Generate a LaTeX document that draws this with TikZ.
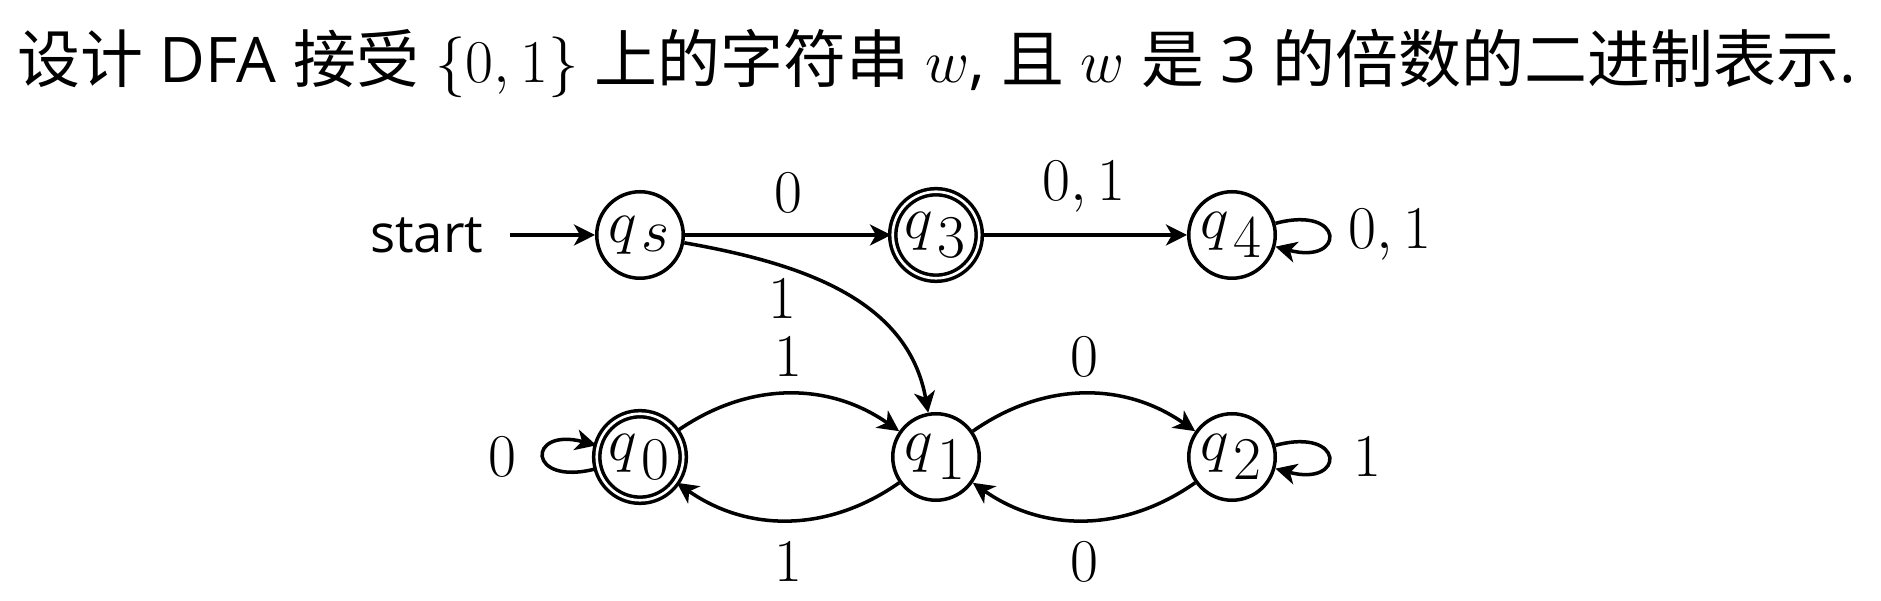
\documentclass[tikz,border=0pt]{standalone}
\usepackage{fontspec}
\setmainfont{Open Sans}
\newfontfamily\cjk{Noto Sans CJK SC}
\usetikzlibrary{automata,arrows.meta}
\tikzset{
  every state/.style={draw, line width=1pt, minimum size=0.865cm, inner sep=0pt},
  accepting/.style={double, double distance=0.75pt},
  lbl/.style={inner sep=0.04cm}
}
\newcommand{\qq}[1]{$q_{\textstyle\mskip2mu#1}$}
\begin{document}
\begin{tikzpicture}[>={Stealth[length=2.1mm,width=2.1mm,inset=0.6mm]},
    line width=1pt, font=\fontsize{17.5}{21}\selectfont]
      \useasboundingbox (0,0) rectangle (18.81,6.01);
      \node[anchor=base west, inner sep=0pt, font=\fontsize{17.9}{21}\selectfont] (title) at (0.16,5.18)
        {{\cjk 设计} DFA {\cjk 接受} $\{0,1\}$ {\cjk 上的字符串} $w$, {\cjk 且} $w$ {\cjk 是} 3 {\cjk 的倍数的二进制表示}.};
      \draw
        (5.1,3.66) node[anchor=east, inner xsep=0.25cm, font=\fontsize{15}{18}\selectfont] (start){start}
        (6.40,3.66) node[state] (qs){\qq{s}}
        (9.36,3.66) node[state,accepting] (q3){\qq{3}}
        (12.32,3.66) node[state] (q4){\qq{4}}
        (6.40,1.44) node[state,accepting] (q0){\qq{0}}
        (9.36,1.44) node[state] (q1){\qq{1}}
        (12.32,1.44) node[state] (q2){\qq{2}};
      \begin{scope}[->]
        \draw (start) to (qs);
        \draw (qs) to node[lbl,above=0.17cm]{$0$} (q3);
        \draw (qs) to[out=-10,in=100] node[lbl,pos=0.29,below left=0.08cm,xshift=0.3cm]{$1$} (q1);
        \draw (q3) to node[lbl,above=0.17cm]{$0,1$} (q4);
        \draw (q4) to[loop right] node[lbl,right=0.15cm]{$0,1$} (q4);
        \draw (q0) to[loop left] node[lbl,left=0.22cm]{$0$} (q0);
        \draw (q0) to[bend left=35] node[lbl,above=0.12cm]{$1$} (q1);
        \draw (q1) to[bend left=35] node[lbl,below=0.17cm]{$1$} (q0);
        \draw (q1) to[bend left=35] node[lbl,above=0.12cm]{$0$} (q2);
        \draw (q2) to[bend left=35] node[lbl,below=0.17cm]{$0$} (q1);
        \draw (q2) to[loop right] node[lbl,right=0.2cm]{$1$} (q2);
      \end{scope}
    \end{tikzpicture}
\end{document}
